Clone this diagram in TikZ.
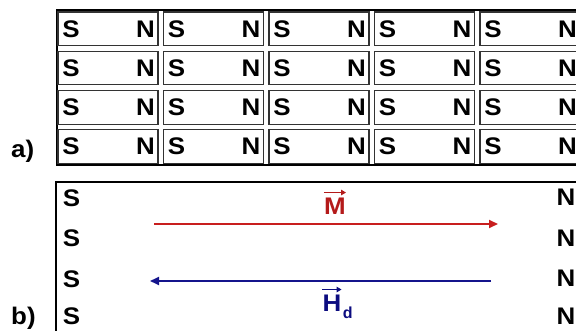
\documentclass[tikz,border=0pt]{standalone}
\usepackage{fontspec}
\setmainfont{Liberation Sans}
\usetikzlibrary{arrows.meta}
\definecolor{fieldred}{HTML}{C81E1E}
\definecolor{labelred}{HTML}{B41A1A}
\definecolor{fieldblue}{HTML}{14148C}
\definecolor{labelblue}{HTML}{0C0C80}

\begin{document}
\begin{tikzpicture}[x=1pt,y=-1pt,
    frame/.style={draw=black,line width=2.5pt},
    magnet/.style={draw=black!80,line width=1.1pt,minimum width=100pt,minimum height=33.5pt,inner sep=0pt},
    pole/.style={font=\fontsize{24}{24}\selectfont\bfseries,inner sep=0pt,xscale=1.08},
    subletter/.style={font=\fontsize{16}{16}\selectfont\bfseries,inner sep=0pt},
    vecarrow/.style={line width=1.8pt,-{Triangle[length=5pt,width=5.5pt]}}]
  \useasboundingbox (0,0) rectangle (576,331);
  \clip (0,0) rectangle (576,331);

  % a) rows of small magnets
  \draw[frame] (57,10) rectangle (600,165);
  \foreach \c in {0,...,4}
    \foreach \r in {0,...,3} {
      \node[magnet] (m\c\r) at ({108+105.5*\c},{28.75+39.3*\r}) {};
      \node[pole] (s\c\r) at ([xshift=13.5pt]m\c\r.west) {S};
      \node[pole] (n\c\r) at ([xshift=-13pt]m\c\r.east) {N};
    }
  \node[pole,anchor=base west] (alabel) at (11,158) {a)};

  % b) one large magnet
  \draw[frame] (56,182) rectangle (600,345);
  \foreach \y [count=\i] in {198,238,279,316} {
    \node[pole] (bs\i) at (71.5,\y) {S};
  }
  \foreach \y [count=\i] in {197,238,278,316} {
    \node[pole] (bn\i) at (566,\y) {N};
  }
  \node[pole,anchor=base west] (blabel) at (11,324) {b)};

  \coordinate (mtail) at (154,224);
  \coordinate (mtip) at (498,224);
  \draw[fieldred,line width=2pt,-{Triangle[length=9pt,width=8pt]}] (mtail) -- (mtip);
  \coordinate (hdtail) at (491,281);
  \coordinate (hdtip) at (150,281);
  \draw[fieldblue,line width=1.8pt,-{Triangle[length=9pt,width=8pt]}] (hdtail) -- (hdtip);

  \node[pole,text=labelred] (mlabel) at (335,206) {M};
  \draw[vecarrow,labelred] ([yshift=5pt]mlabel.north west) -- ([yshift=5pt]mlabel.north east);
  \node[pole,text=labelblue] (hlabel) at (332,303) {H};
  \node[subletter,text=labelblue,anchor=base west] (dsub) at ([xshift=1pt,yshift=-7pt]hlabel.base east) {d};
  \draw[vecarrow,labelblue] ([yshift=5pt]hlabel.north west) -- ([yshift=5pt]hlabel.north east);
\end{tikzpicture}
\end{document}
